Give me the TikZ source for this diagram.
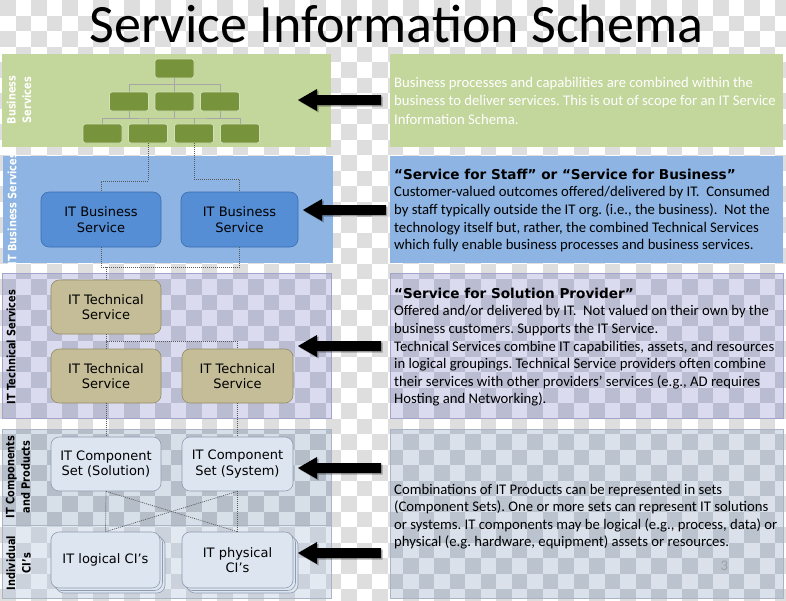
\documentclass[tikz,border=0pt]{standalone}
\usepackage{fontspec}
\setmainfont{Carlito}
\newfontfamily\vfont{DejaVu Sans}
\newfontfamily\sidefont[FakeStretch=0.85]{DejaVu Sans}
\usetikzlibrary{shadows}
\frenchspacing
\definecolor{chk}{HTML}{DEDEDE}
\definecolor{grfill}{HTML}{C3D69B}
\definecolor{orgfill}{HTML}{77933C}
\definecolor{orgborder}{HTML}{D2E0B8}
\definecolor{orgline}{HTML}{A6A6A6}
\definecolor{blfill}{HTML}{8DB4E2}
\definecolor{ibfill}{HTML}{558ED5}
\definecolor{ibborder}{HTML}{3B6DB0}
\definecolor{tkfill}{HTML}{C4BD97}
\definecolor{tkborder}{HTML}{938C68}
\definecolor{techlight}{HTML}{DADBEE}
\definecolor{techdark}{HTML}{BABCD2}
\definecolor{techborder}{HTML}{A3A3CC}
\definecolor{complight}{HTML}{D7DFE9}
\definecolor{compdark}{HTML}{B5BDC9}
\definecolor{cilight}{HTML}{E3E9F1}
\definecolor{cidark}{HTML}{CBD2DC}
\definecolor{rblight}{HTML}{DAE1EB}
\definecolor{rbdark}{HTML}{BBC3CF}
\definecolor{panelborder}{HTML}{A9B4C4}
\definecolor{cbfill}{HTML}{DDE5F0}
\definecolor{cbborder}{HTML}{8F9BB0}
\definecolor{dotcol}{HTML}{595959}
\definecolor{pagenum}{HTML}{A0A0A0}
\newcommand\checkerdraw[5]{%
  \foreach \ci in {#2,...,#3}{%
    \foreach \cj in {#4,...,#5}{%
      \pgfmathtruncatemacro\cpar{mod(\ci+\cj,2)}%
      \ifnum\cpar=0
        \fill[#1] (\ci*15.5,\cj*15.5) rectangle ++(15.5,15.5);
      \fi
    }%
  }%
}
\newcommand\leftarrowat[3]{%
  \coordinate (#1) at (#2,#3);
  \fill[arrowshape] (#1) -- ++(19,-11) -- ++(0,6) -- ++(64,0) -- ++(0,10) -- ++(-64,0) -- ++(0,6) -- cycle;
}
\tikzset{
  arrowshape/.style={fill=black, drop shadow={opacity=0.3, shadow xshift=1.5pt, shadow yshift=-1.5pt, fill=black}},
  orgbox/.style={draw=orgborder, fill=orgfill, rounded corners=2.5pt, minimum width=39pt, minimum height=19pt, inner sep=0pt, line width=0.7pt},
  orgconn/.style={draw=orgline, line width=0.8pt},
  dotconn/.style={draw=dotcol, line width=0.7pt, dash pattern=on 1pt off 1pt},
  boxtext/.style={align=center, inner sep=0pt, font=\vfont\fontsize{13}{15.5}\selectfont},
  ibbox/.style={boxtext, draw=ibborder, fill=ibfill, rounded corners=8pt, minimum width=120pt, minimum height=55pt, line width=0.6pt},
  tkbox/.style={boxtext, draw=tkborder, fill=tkfill, rounded corners=8pt, minimum width=110pt, minimum height=54pt, line width=0.6pt},
  cbbox/.style={boxtext, draw=cbborder, fill=cbfill, rounded corners=8pt, minimum width=110pt, minimum height=54pt, line width=0.6pt},
  cibox/.style={cbbox, minimum height=56pt, double copy shadow={shadow xshift=2.5pt, shadow yshift=-2.5pt, fill=cbfill, draw=cbborder}},
  sidew/.style={rotate=90, align=center, inner sep=0pt, text=white, font=\sidefont\bfseries\fontsize{11.5}{15.5}\selectfont},
  sideb/.style={sidew, text=black},
  rtext/.style={anchor=base west, inner sep=0pt, font=\fontsize{14.7}{17.6}\selectfont},
  rhead/.style={anchor=base west, inner sep=0pt, font=\vfont\bfseries\fontsize{13.6}{16}\selectfont},
}
\begin{document}
\begin{tikzpicture}[x=1pt,y=-1pt]
\useasboundingbox (0,0) rectangle (786,600);
\clip (0,0) rectangle (786,600);
% transparency checkerboard
\fill[white] (0,0) rectangle (786,600);
\checkerdraw{chk}{0}{50}{0}{38}

% title
\node[anchor=base, inner sep=0pt, font=\fontsize{54}{60}\selectfont] (title) at (396.5,42) {Service Information Schema};

% ---- panels ----
\fill[grfill] (2,54) rectangle (331,147);
\fill[grfill] (390,54) rectangle (783,147);
\fill[blfill] (3,156) rectangle (333,263);
\fill[blfill] (390,156) rectangle (783,263);

\begin{scope}
\clip (2,273) rectangle (331,418);
\fill[techlight] (2,273) rectangle (331,418);
\checkerdraw{techdark}{0}{21}{17}{27}
\end{scope}
\draw[techborder, line width=0.7pt] (2,273) rectangle (331,418);
\begin{scope}
\clip (390,273) rectangle (783,418);
\fill[techlight] (390,273) rectangle (783,418);
\checkerdraw{techdark}{25}{50}{17}{27}
\end{scope}
\draw[techborder, line width=0.7pt] (390,273) rectangle (783,418);

\begin{scope}
\clip (2,429) rectangle (331,525);
\fill[complight] (2,429) rectangle (331,525);
\checkerdraw{compdark}{0}{21}{27}{34}
\end{scope}
\begin{scope}
\clip (2,525) rectangle (331,598);
\fill[cilight] (2,525) rectangle (331,598);
\checkerdraw{cidark}{0}{21}{33}{38}
\end{scope}
\draw[panelborder, line width=0.6pt] (2,429) rectangle (331,598);
\draw[panelborder, line width=0.6pt] (2,525) -- (331,525);
\begin{scope}
\clip (390,429) rectangle (783,598);
\fill[rblight] (390,429) rectangle (783,598);
\checkerdraw{rbdark}{25}{50}{27}{38}
\end{scope}
\draw[panelborder, line width=0.6pt] (390,429) rectangle (783,598);

% ---- side labels ----
\node[sidew] (lblbus) at (19,100) {Business\\Services};
\node[sidew] (lblitb) at (12,209) {IT Business Services};
\node[sideb] (lblitt) at (11,347) {IT Technical Services};
\node[sideb] (lblcomp) at (18,477) {IT Components\\and Products};
\node[sideb] (lblci) at (18.5,563) {Individual\\CI’s};

% ---- org chart ----
\node[orgbox] (top) at (174.5,68.5) {};
\node[orgbox] (m1) at (129,101.5) {};
\node[orgbox] (m2) at (174.5,101.5) {};
\node[orgbox] (m3) at (220,101.5) {};
\node[orgbox] (b1) at (102.5,133.5) {};
\node[orgbox] (b2) at (148,133.5) {};
\node[orgbox] (b3) at (194,133.5) {};
\node[orgbox] (b4) at (240,133.5) {};
\coordinate (hbar1) at (174.5,84.5);
\coordinate (hbar2) at (174.5,118);
\draw[orgconn] (top.south) -- (m2.north);
\draw[orgconn] (m1.north) |- (hbar1) -| (m3.north);
\draw[orgconn] (b1.north) |- (hbar2) -| (b4.north);
\draw[orgconn] (m1.south) -- (m1.south |- hbar2);
\draw[orgconn] (m2.south) -- (m2.south |- hbar2);
\draw[orgconn] (m3.south) -- (m3.south |- hbar2);
\draw[orgconn] (b2.north) -- (b2.north |- hbar2);
\draw[orgconn] (b3.north) -- (b3.north |- hbar2);

% ---- IT boxes ----
\node[ibbox] (ib1) at (101,219.5) {IT Business\\Service};
\node[ibbox, minimum width=117pt] (ib2) at (239.5,219.5) {IT Business\\Service};
\node[tkbox] (tk1) at (106,307) {IT Technical\\Service};
\node[tkbox] (tk2) at (106,376) {IT Technical\\Service};
\node[tkbox, minimum width=111pt] (tk3) at (237.5,376) {IT Technical\\Service};
\node[cbbox] (cb1) at (106,464) {IT Component\\Set (Solution)};
\node[cbbox, minimum width=111pt] (cb2) at (237.5,464) {IT Component\\Set (System)};
\node[cibox, minimum width=109pt] (ci1) at (105.5,560) {IT logical CI’s};
\node[cibox, minimum width=111pt] (ci2) at (237.5,560) {IT physical\\CI’s};

% ---- dotted connectors ----
\draw[dotconn] (b2.south) -- ++(0,38) -| (ib1.north);
\draw[dotconn] (b3.south) -- ++(0,36) -| (ib2.north);
\draw[dotconn] (ib1.south) -- ++(0,20) coordinate (ibj) -| (ib2.south);
\draw[dotconn] (tk1.north) -- (tk1.north |- ibj);
\draw[dotconn] (tk1.south) -- (tk2.north);
\draw[dotconn] (tk1.south) -- ++(0,7) -| (tk3.north);
\draw[dotconn] (tk2.south) -- (cb1.north);
\draw[dotconn] (tk3.south) -- (cb2.north);
\draw[dotconn] (cb1.south) -- (ci1.north);
\draw[dotconn] (cb2.south) -- (ci2.north);
\draw[dotconn] (cb1.south) -- (ci2.north);
\draw[dotconn] (cb2.south) -- (ci1.north);

% ---- arrows ----
\leftarrowat{ar1}{298}{100}
\leftarrowat{ar2}{303}{210}
\leftarrowat{ar3}{298}{346}
\leftarrowat{ar4}{298}{468}
\leftarrowat{ar5}{298}{553}

% ---- right texts ----
\node[rtext, text=white] (g1) at (394,87.3) {Business processes and capabilities are combined within the};
\node[rtext, text=white] (g2) at (394,105.7) {business to deliver services. This is out of scope for an IT Service};
\node[rtext, text=white] (g3) at (394,124) {Information Schema.};

\node[rhead] (bh) at (394,179.3) {“Service for Staff” or “Service for Business”};
\node[rtext] (bl1) at (394,196.7) {Customer-valued outcomes offered/delivered by IT.~ Consumed};
\node[rtext] (bl2) at (394,214.3) {by staff typically outside the IT org. (i.e., the business).~ Not the};
\node[rtext] (bl3) at (394,232) {technology itself but, rather, the combined Technical Services};
\node[rtext] (bl4) at (394,249.3) {which fully enable business processes and business services.};

\node[rhead] (th) at (394,298.3) {“Service for Solution Provider”};
\node[rtext] (tl1) at (394,315.7) {Offered and/or delivered by IT.~ Not valued on their own by the};
\node[rtext] (tl2) at (394,333.3) {business customers. Supports the IT Service.};
\node[rtext] (tl3) at (394,351) {Technical Services combine IT capabilities, assets, and resources};
\node[rtext] (tl4) at (394,368.7) {in logical groupings. Technical Service providers often combine};
\node[rtext] (tl5) at (394,386) {their services with other providers’ services (e.g., AD requires};
\node[rtext] (tl6) at (394,403.3) {Hosting and Networking).};

\node[rtext] (cl1) at (394,494) {Combinations of IT Products can be represented in sets};
\node[rtext] (cl2) at (394,511.7) {(Component Sets). One or more sets can represent IT solutions};
\node[rtext] (cl3) at (394,529) {or systems. IT components may be logical (e.g., process, data) or};
\node[rtext] (cl4) at (394,546.3) {physical (e.g. hardware, equipment) assets or resources.};
\node[rtext, text=pagenum] (pnum) at (720.5,570.7) {3};
\end{tikzpicture}
\end{document}
